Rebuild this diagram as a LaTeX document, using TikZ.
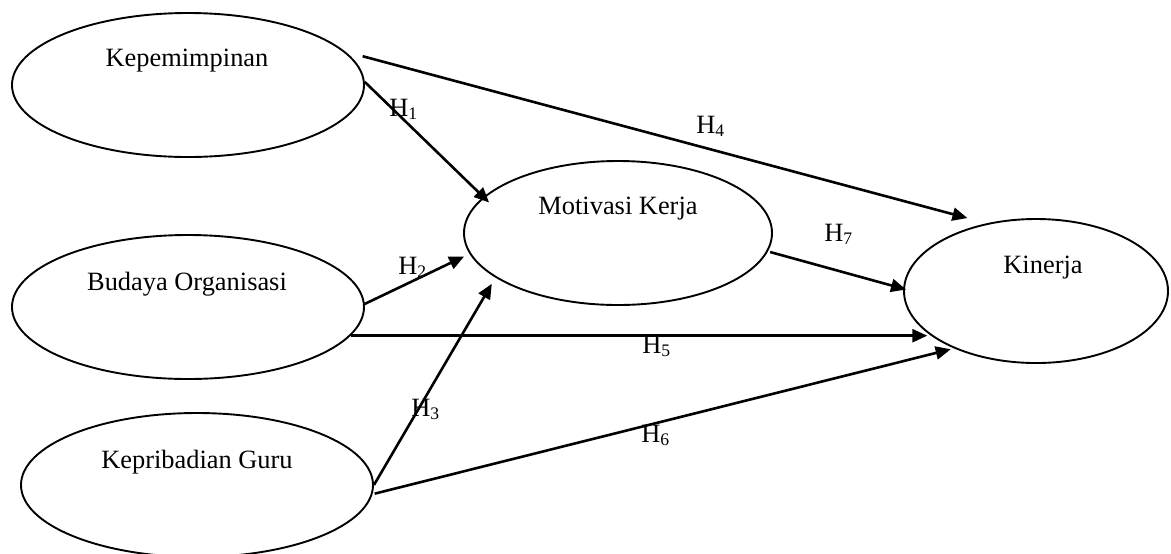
\documentclass[tikz,border=0pt]{standalone}
\usepackage{fontspec}
\setmainfont{Liberation Serif}
\usetikzlibrary{arrows.meta,shapes.geometric}
\newcommand\hlab[1]{H\raisebox{-1.9pt}{\fontsize{8.8}{10}\selectfont #1}}
\begin{document}
\begin{tikzpicture}[x=0.5pt,y=-0.5pt,
  var/.style={draw,ellipse,line width=0.95pt,inner sep=0pt},
  vtext/.style={anchor=base,inner sep=0pt,font=\fontsize{13.2}{15}\selectfont},
  hyp/.style={anchor=base west,inner sep=0pt,font=\fontsize{13.2}{15}\selectfont},
  conn/.style={line width=1.3pt,-{Triangle[length=7.5pt,width=6.5pt]}}]
\useasboundingbox (0,0) rectangle (1171,553);
% ellipses
\node[var,minimum width=176pt,minimum height=72pt] (kep) at (188,85) {};
\node[var,minimum width=176pt,minimum height=72pt] (bud) at (188,307) {};
\node[var,minimum width=176pt,minimum height=72pt] (gur) at (197,485) {};
\node[var,minimum width=154pt,minimum height=72pt] (mot) at (618,233) {};
\node[var,minimum width=132pt,minimum height=72pt] (kin) at (1036,291) {};
% texts
\node[vtext] (kepT) at (187,66) {Kepemimpinan};
\node[vtext] (budT) at (187,290) {Budaya Organisasi};
\node[vtext] (gurT) at (197,468) {Kepribadian Guru};
\node[vtext] (motT) at (618,214) {Motivasi Kerja};
\node[vtext] (kinT) at (1043,273) {Kinerja};
% connectors
\draw[conn,shorten <=9pt,shorten >=10pt] (kep.12.2) -- (kin.126.6);
\draw[conn,shorten >=-4pt] (kep.1.6) -- (mot.165.1);
\draw[conn,shorten >=3pt] (bud.1.6) -- (mot.-172.1);
\draw[conn,shorten >=3.7pt] (bud.-10.6) -- (bud.-10.6 -| kin.-155.6);
\draw[conn,shorten >=3.6pt] (gur.0.65) -- (mot.-160.3);
\draw[conn,shorten <=1.1pt,shorten >=1.7pt] (gur.-3.8) -- (kin.-145.8);
\draw[conn,shorten <=1.15pt,shorten >=-1.5pt] (mot.-7.9) -- (kin.179.2);
% hypothesis labels
\node[hyp] (h1) at (389,116) {\hlab{1}};
\node[hyp] (h2) at (398,274) {\hlab{2}};
\node[hyp] (h3) at (411,416) {\hlab{3}};
\node[hyp] (h4) at (696,133) {\hlab{4}};
\node[hyp] (h5) at (642,353) {\hlab{5}};
\node[hyp] (h6) at (641,442) {\hlab{6}};
\node[hyp] (h7) at (824,241) {\hlab{7}};
\end{tikzpicture}
\end{document}
